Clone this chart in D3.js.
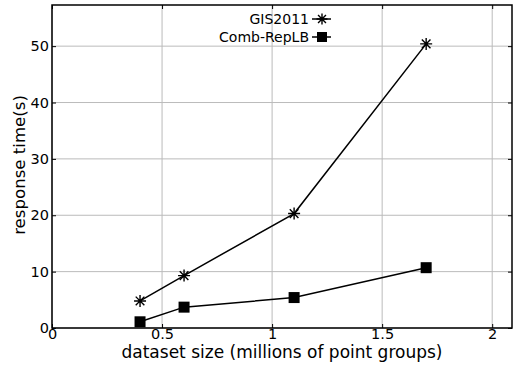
<!DOCTYPE html>
<html lang="en">
    <head>
        <meta charset="utf-8" />
        <script src="https://cdnjs.cloudflare.com/ajax/libs/d3/7.1.1/d3.min.js"></script>
        <style>
            body { margin: 0; background: #fff; }
            text { font-family: "DejaVu Sans", sans-serif; }
        </style>
        <title>response time</title>
    </head>
    <body>
        <div id="chart"></div>
        <script>

        const sizes = [0.4, 0.6, 1.1, 1.7];
        const gis2011 = [4.8, 9.3, 20.3, 50.4];
        const combRepLB = [1.1, 3.7, 5.4, 10.7];
        const xTicks = [0, 0.5, 1, 1.5, 2];
        const yTicks = [0, 10, 20, 30, 40, 50];

        const width = 518;
        const height = 365;
        const margin = { top: 5, bottom: 37, left: 52, right: 6 };

        const svg = d3
            .select('#chart')
            .append('svg')
            .attr('width', width)
            .attr('height', height);

        const x = d3.scaleLinear().domain([0, 2.09]).range([margin.left, width - margin.right]);
        const y = d3.scaleLinear().domain([0, 57.3]).range([height - margin.bottom, margin.top]);

        // grid
        svg.append('g')
            .selectAll('line')
            .data(xTicks)
            .enter()
            .append('line')
            .attr('x1', (d) => x(d)).attr('x2', (d) => x(d))
            .attr('y1', y(0)).attr('y2', y(57.3))
            .attr('stroke', '#bbb');
        svg.append('g')
            .selectAll('line')
            .data(yTicks)
            .enter()
            .append('line')
            .attr('y1', (d) => y(d)).attr('y2', (d) => y(d))
            .attr('x1', x(0)).attr('x2', x(2.09))
            .attr('stroke', '#bbb');

        // axes (inward ticks on all four sides)
        const styleAxis = (g) => {
            g.select('.domain').remove();
            g.selectAll('.tick line').attr('stroke', '#000');
            g.selectAll('.tick text').attr('fill', '#000').attr('font-size', 14.5)
                .attr('font-family', '"DejaVu Sans", sans-serif');
        };
        svg.append('g')
            .attr('transform', `translate(0, ${y(0)})`)
            .call(d3.axisBottom(x).tickValues(xTicks).tickFormat(d3.format('')).tickSizeInner(-4).tickPadding(1))
            .call(styleAxis);
        svg.append('g')
            .attr('transform', `translate(0, ${y(57.3)})`)
            .call(d3.axisTop(x).tickValues(xTicks).tickSizeInner(-4).tickFormat(''))
            .call(styleAxis);
        svg.append('g')
            .attr('transform', `translate(${x(0)}, 0)`)
            .call(d3.axisLeft(y).tickValues(yTicks).tickSizeInner(-4).tickPadding(3))
            .call(styleAxis);
        svg.append('g')
            .attr('transform', `translate(${x(2.09)}, 0)`)
            .call(d3.axisRight(y).tickValues(yTicks).tickSizeInner(-4).tickFormat(''))
            .call(styleAxis);

        svg.append('rect')
            .attr('x', x(0)).attr('y', y(57.3))
            .attr('width', x(2.09) - x(0)).attr('height', y(0) - y(57.3))
            .attr('fill', 'none').attr('stroke', '#000').attr('stroke-width', 1.5);

        // titles
        svg.append('text')
            .attr('x', (x(0) + x(2.09)) / 2).attr('y', 357.5)
            .attr('text-anchor', 'middle').attr('font-size', 17)
            .text('dataset size (millions of point groups)');
        svg.append('text')
            .attr('transform', `translate(25, 165) rotate(-90)`)
            .attr('text-anchor', 'middle').attr('font-size', 16.6)
            .text('response time(s)');

        // markers
        const star = (g, cx, cy, r) => {
            g.append('path')
                .attr('d', `M${cx - r},${cy}H${cx + r}M${cx},${cy - r}V${cy + r}` +
                    `M${cx - r * 0.72},${cy - r * 0.72}L${cx + r * 0.72},${cy + r * 0.72}` +
                    `M${cx - r * 0.72},${cy + r * 0.72}L${cx + r * 0.72},${cy - r * 0.72}`)
                .attr('stroke', '#000').attr('stroke-width', 1.4).attr('fill', 'none');
        };
        const line = d3.line().x((d) => x(d[0])).y((d) => y(d[1]));

        const gisData = sizes.map((s, i) => [s, gis2011[i]]);
        const combData = sizes.map((s, i) => [s, combRepLB[i]]);

        svg.append('path').datum(gisData).attr('d', line)
            .attr('fill', 'none').attr('stroke', '#000').attr('stroke-width', 1.5);
        gisData.forEach((d) => star(svg, x(d[0]), y(d[1]), 6));

        svg.append('path').datum(combData).attr('d', line)
            .attr('fill', 'none').attr('stroke', '#000').attr('stroke-width', 1.5);
        svg.selectAll('.sq')
            .data(combData)
            .enter()
            .append('rect')
            .attr('x', (d) => x(d[0]) - 5.5).attr('y', (d) => y(d[1]) - 5.5)
            .attr('width', 11).attr('height', 11)
            .attr('fill', '#000');

        // legend
        const legend = [
            { name: 'GIS2011', y: 19, type: 'star' },
            { name: 'Comb-RepLB', y: 37, type: 'square' }
        ];
        legend.forEach((l) => {
            svg.append('text')
                .attr('x', 309).attr('y', l.y).attr('dy', '0.36em')
                .attr('text-anchor', 'end').attr('font-size', 14)
                .text(l.name);
            svg.append('line')
                .attr('x1', 312).attr('x2', 331).attr('y1', l.y).attr('y2', l.y)
                .attr('stroke', '#000').attr('stroke-width', 1.5);
            if (l.type === 'star') star(svg, 322, l.y, 5.5);
            else svg.append('rect').attr('x', 317).attr('y', l.y - 5).attr('width', 10).attr('height', 10).attr('fill', '#000');
        });

        </script>
    </body>
</html>
